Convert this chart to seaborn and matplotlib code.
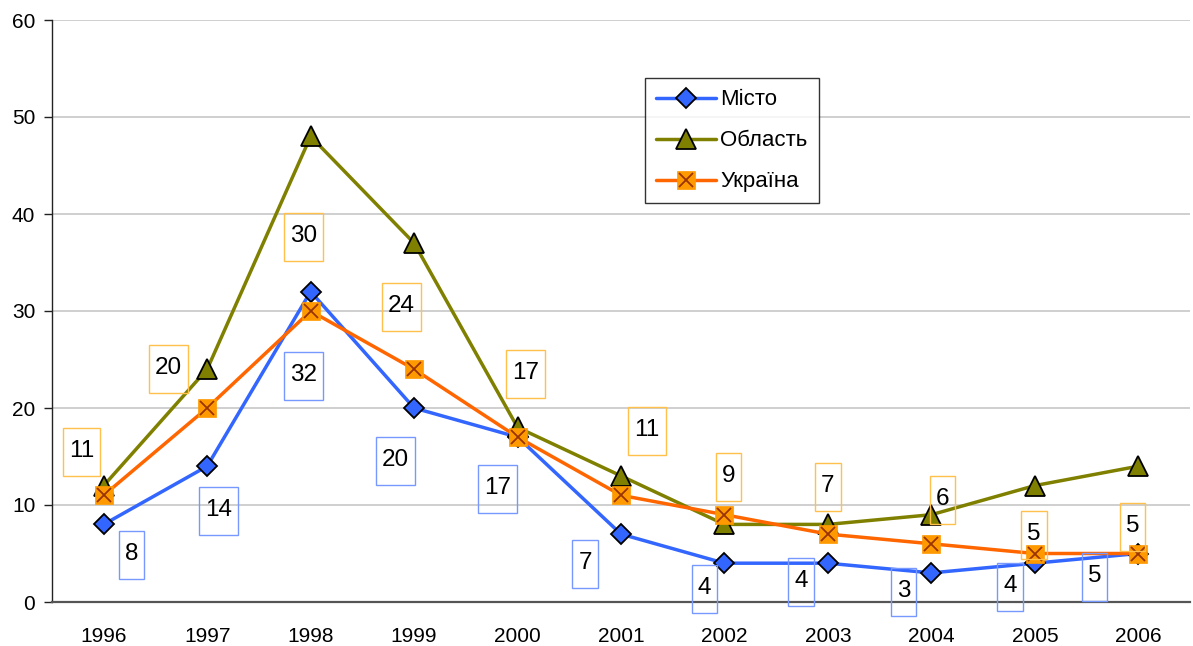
import matplotlib
matplotlib.use("Agg")
import matplotlib.pyplot as plt
from matplotlib.path import Path
from matplotlib.lines import Line2D
from matplotlib.legend_handler import HandlerTuple
import numpy as np
import seaborn as sns

# --- data ---
years = ["1996", "1997", "1998", "1999", "2000", "2001",
         "2002", "2003", "2004", "2005", "2006"]
misto = [8, 14, 32, 20, 17, 7, 4, 4, 3, 4, 5]
oblast = [12, 24, 48, 37, 18, 13, 8, 8, 9, 12, 14]
ukraina = [11, 20, 30, 24, 17, 11, 9, 7, 6, 5, 5]

# label offsets in pixels (dx, dy) from the point
ukr_off = [(-22, 44), (-39, 40), (-7, 75), (-13, 63), (8, 64), (26, 65),
           (4, 39), (0, 48), (11, 45), (-1, 20), (-6, 28)]
mis_off = [(28, -30), (11, -44), (-7, -83), (-19, -52), (-20, -51), (-36, -29),
           (-20, -25), (-27, -18), (-28, -18), (-25, -23), (-44, -22)]

C_MIS = "#3366FF"
C_OBL = "#808000"
C_UKR = "#FF6600"
C_SQ = "#FF9900"
C_X = "#993300"

sns.set_style("white")
plt.rcParams["font.family"] = ["Liberation Sans", "DejaVu Sans"]
plt.rcParams["text.color"] = "black"
plt.rcParams["xtick.color"] = "black"
plt.rcParams["ytick.color"] = "black"


def tall_box(x0, y0, width, height, mutation_size):
    # narrow, tall label frame like the Excel data labels
    cx = x0 + width / 2
    cy = y0 + height / 2 - 1
    w = width + 12
    h = 48
    verts = [(cx - w / 2, cy - h / 2), (cx + w / 2, cy - h / 2),
             (cx + w / 2, cy + h / 2), (cx - w / 2, cy + h / 2),
             (cx - w / 2, cy - h / 2)]
    return Path(verts, closed=True)


fig = plt.figure(figsize=(11.93, 6.46), dpi=100)
ax = fig.add_axes([52 / 1193, 44 / 646, 1138 / 1193, 582 / 646])

pos = np.arange(len(years))

sns.lineplot(x=pos, y=misto, ax=ax, color=C_MIS, lw=2.5, marker="D",
             markersize=10.5, markerfacecolor=C_MIS, markeredgecolor="black",
             markeredgewidth=1.3, zorder=3)
sns.lineplot(x=pos, y=oblast, ax=ax, color=C_OBL, lw=2.5, marker="^",
             markersize=14, markerfacecolor=C_OBL, markeredgecolor="black",
             markeredgewidth=1.3, zorder=4)
sns.lineplot(x=pos, y=ukraina, ax=ax, color=C_UKR, lw=2.5, marker="s",
             markersize=13, markerfacecolor=C_SQ, markeredgecolor=C_SQ,
             markeredgewidth=0.5, zorder=5)
ax.plot(pos, ukraina, ls="none", marker="x", markersize=10,
        markeredgecolor=C_X, markeredgewidth=1.3, zorder=6)

for i in pos:
    ax.annotate(str(ukraina[i]), (i, ukraina[i]), xytext=ukr_off[i],
                textcoords="offset pixels", ha="center", va="center",
                fontsize=17.5, annotation_clip=False, zorder=7,
                bbox=dict(boxstyle=tall_box, fc="none", ec="#FFC04C", lw=1))
    ax.annotate(str(misto[i]), (i, misto[i]), xytext=mis_off[i],
                textcoords="offset pixels", ha="center", va="center",
                fontsize=17.5, annotation_clip=False, zorder=7,
                bbox=dict(boxstyle=tall_box, fc="none", ec="#7799FF", lw=1))

ax.set_xlim(-0.5, len(years) - 0.5)
ax.set_ylim(0, 60)
ax.set_yticks(range(0, 61, 10))
ax.set_xticks(pos)
ax.set_xticklabels(years)
ax.set_xticks(np.arange(-0.5, len(years), 1), minor=True)
ax.tick_params(axis="x", which="major", length=0, pad=18, labelsize=15)
ax.tick_params(axis="x", which="minor", length=6, width=1, color="#444444",
               direction="out")
ax.tick_params(axis="y", length=6, width=1, color="#222222", direction="out",
               labelsize=15, pad=6, left=True)
ax.yaxis.grid(True, color="#CCCCCC", lw=1.3)
ax.set_axisbelow(True)
for s in ["top", "right"]:
    ax.spines[s].set_visible(False)
ax.spines["left"].set_color("#222222")
ax.spines["bottom"].set_color("#555555")
ax.spines["left"].set_linewidth(1)
ax.spines["bottom"].set_linewidth(1.6)
ax.set_xlabel("")
ax.set_ylabel("")

h_mis = Line2D([], [], color=C_MIS, lw=2.5, marker="D", markersize=10.5,
               markerfacecolor=C_MIS, markeredgecolor="black", markeredgewidth=1.3)
h_obl = Line2D([], [], color=C_OBL, lw=2.5, marker="^", markersize=14,
               markerfacecolor=C_OBL, markeredgecolor="black", markeredgewidth=1.3)
h_ukr1 = Line2D([], [], color=C_UKR, lw=2.5, marker="s", markersize=13,
                markerfacecolor=C_SQ, markeredgecolor=C_SQ, markeredgewidth=0.5)
h_ukr2 = Line2D([], [], ls="none", marker="x", markersize=10,
                markeredgecolor=C_X, markeredgewidth=1.3)
leg = ax.legend([h_mis, h_obl, (h_ukr1, h_ukr2)], ["Місто", "Область", "Україна"],
                handler_map={tuple: HandlerTuple(ndivide=1, pad=0)},
                loc="upper left", bbox_to_anchor=(0.521, 0.9), fontsize=16,
                frameon=True, fancybox=False, edgecolor="black",
                handlelength=2.7, handletextpad=0.2, labelspacing=0.9,
                borderpad=0.5, borderaxespad=0)
leg.get_frame().set_linewidth(1)

fig.savefig("out.png", dpi=100)
